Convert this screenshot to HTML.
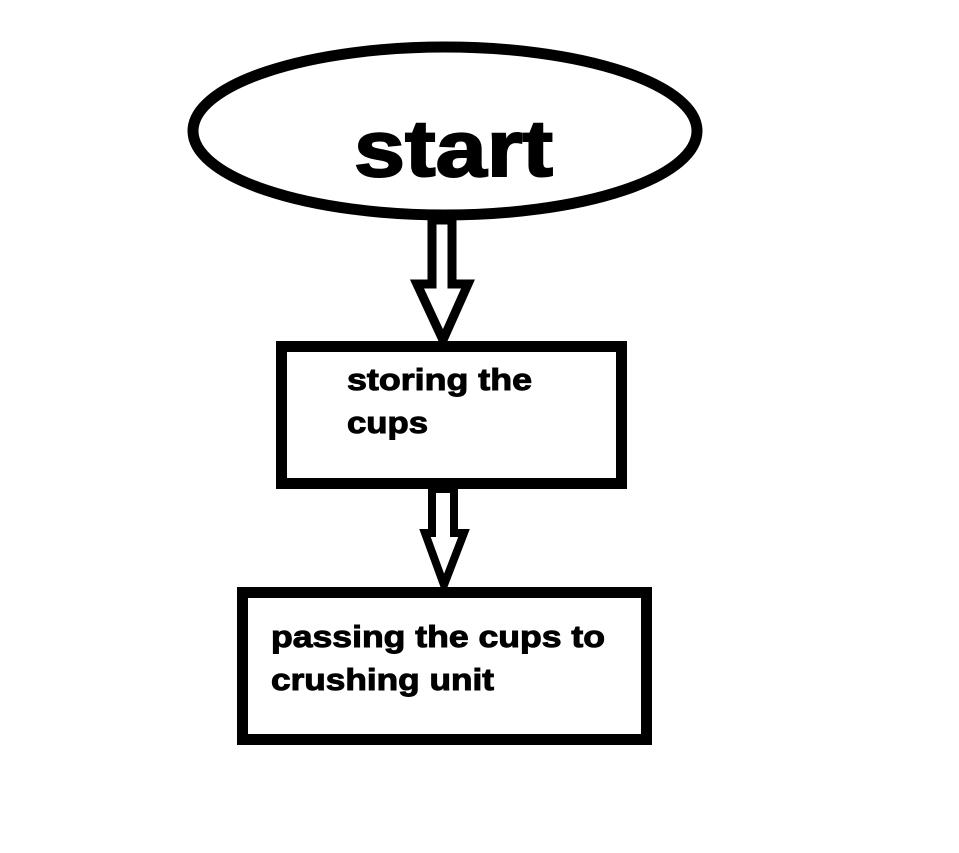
<!DOCTYPE html>
<html><head><meta charset="utf-8"><style>
html,body{margin:0;padding:0;background:#fff;}
svg{display:block;}
text{font-family:"Liberation Sans",Arial,sans-serif;font-weight:bold;fill:#000;}
</style></head><body>
<svg width="959" height="853" viewBox="0 0 959 853" xmlns="http://www.w3.org/2000/svg">
<rect width="959" height="853" fill="#fff"/>
<ellipse cx="445" cy="131" rx="252" ry="84" fill="none" stroke="#000" stroke-width="11"/>
<text x="354" y="176" font-size="80" textLength="199" lengthAdjust="spacingAndGlyphs" stroke="#000" stroke-width="2">start</text>
<!-- arrow 1 -->
<polygon points="432,220 432,284 417,284 443,340 468,284 452,284 452,220" fill="#fff" stroke="#000" stroke-width="9" stroke-linejoin="miter"/>
<rect x="281.5" y="346.5" width="340" height="137" fill="none" stroke="#000" stroke-width="11"/>
<text x="347" y="390" font-size="31" textLength="185" lengthAdjust="spacingAndGlyphs" stroke="#000" stroke-width="1">storing the</text>
<text x="347" y="433" font-size="31" textLength="81" lengthAdjust="spacingAndGlyphs" stroke="#000" stroke-width="1">cups</text>
<!-- arrow 2 -->
<polygon points="432,489 432,533 425,533 444,585 464,533 454,533 454,489" fill="#fff" stroke="#000" stroke-width="8" stroke-linejoin="miter"/>
<rect x="242.5" y="592.5" width="404" height="147" fill="none" stroke="#000" stroke-width="11"/>
<text x="271" y="647" font-size="31" textLength="334" lengthAdjust="spacingAndGlyphs" stroke="#000" stroke-width="1">passing the cups to</text>
<text x="271" y="690" font-size="31" textLength="223" lengthAdjust="spacingAndGlyphs" stroke="#000" stroke-width="1">crushing unit</text>
</svg>
</body></html>
